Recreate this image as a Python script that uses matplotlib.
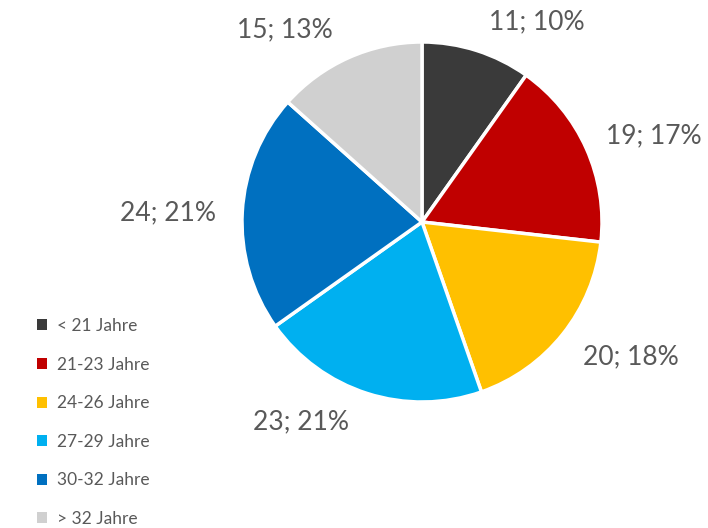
import matplotlib
matplotlib.use("Agg")
import matplotlib.pyplot as plt
from matplotlib.patches import Patch

categories = ["< 21 Jahre", "21-23 Jahre", "24-26 Jahre", "27-29 Jahre", "30-32 Jahre", "> 32 Jahre"]
values = [11, 19, 20, 23, 24, 15]
colors = ["#3a3a3a", "#c00000", "#ffc000", "#00b0f0", "#0070c0", "#d0d0d0"]
label_pos = [(0.64, 1.11), (1.29, 0.48), (1.16, -0.75), (-0.67, -1.11), (-1.41, 0.05), (-0.76, 1.07)]

plt.rcParams['font.family'] = ['Lato', 'DejaVu Sans']
text_color = "#595959"

fig = plt.figure(figsize=(7.08, 5.28), dpi=100)
ax = fig.add_axes([(422 - 180) / 708, (528 - 402) / 528, 360 / 708, 360 / 528])
wedges, _ = ax.pie(values, colors=colors, startangle=90, counterclock=False,
                   wedgeprops=dict(edgecolor="white", linewidth=2.5))
ax.set_xlim(-1, 1)
ax.set_ylim(-1, 1)
ax.set_aspect("equal")
ax.axis("off")

total = sum(values)
for v, (x, y) in zip(values, label_pos):
    ax.text(x, y, f"{v}; {round(100 * v / total)}%", ha="center", va="center",
            fontsize=19, color=text_color, clip_on=False)

handles = [Patch(facecolor=c, edgecolor="none") for c in colors]
leg = fig.legend(handles, categories, loc="upper left", bbox_to_anchor=(37 / 708, 1 - 318 / 528),
                 frameon=False, fontsize=12.5, handlelength=0.6, handleheight=0.6,
                 handletextpad=0.55, labelspacing=1.3, borderpad=0, borderaxespad=0)
for t in leg.get_texts():
    t.set_color(text_color)

fig.savefig("out.png", dpi=100)
